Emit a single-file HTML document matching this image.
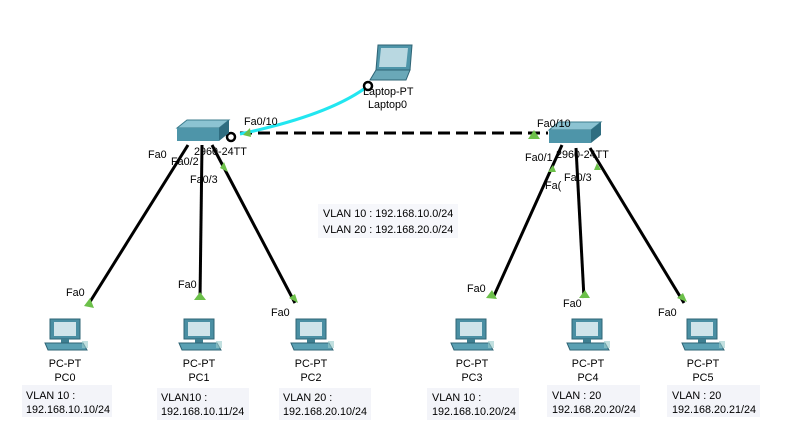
<!DOCTYPE html>
<html><head><style>
body{margin:0;width:785px;height:441px;background:#fff;overflow:hidden;font-family:"Liberation Sans",sans-serif;}
svg text{font-family:"Liberation Sans",sans-serif;font-size:10.8px;fill:#000}
</style></head><body>
<svg width="785" height="441" xmlns="http://www.w3.org/2000/svg">
<defs>
<g id="pc">
 <rect x="-15" y="0" width="30" height="20" fill="#4a8fa3" stroke="#2f6475"/>
 <rect x="-11" y="3" width="22" height="14" fill="#cfe4ea"/>
 <rect x="-4" y="20" width="8" height="4" fill="#3f7f91"/>
 <polygon points="-20,24 18,24 22,31 -17,31" fill="#5aa0b3" stroke="#2f6475"/>
 <rect x="17" y="22" width="6" height="7" fill="#9cc" opacity="0.6"/>
</g>
<g id="sw">
 <polygon points="0,8 10,0 52,0 42,8" fill="#8cc3d2" stroke="#3c7d8e"/>
 <polygon points="0,8 42,8 42,21 0,21" fill="#4e95a9"/>
 <polygon points="42,8 52,0 52,13 42,21" fill="#2f6d80"/>
</g>
</defs>
<g stroke="#000" stroke-width="3">
<line x1="188" y1="145" x2="88" y2="305"/>
<line x1="202" y1="145" x2="200" y2="300"/>
<line x1="212" y1="145" x2="295" y2="303"/>
<line x1="562" y1="145" x2="493" y2="298"/>
<line x1="576" y1="148" x2="584" y2="298"/>
<line x1="590" y1="148" x2="684" y2="303"/>
</g>
<line x1="240" y1="133" x2="548" y2="133" stroke="#000" stroke-width="3" stroke-dasharray="12,6"/>
<path d="M368,86 Q330,115 240,134" stroke="#22e6f0" stroke-width="3" fill="none"/>
<circle cx="231" cy="137" r="4" fill="#fff" stroke="#000" stroke-width="2.5"/>
<circle cx="368" cy="86" r="4" fill="#fff" stroke="#000" stroke-width="2.5"/>
<g fill="#6cc04a">
<polygon points="243,135 250,128 251,137"/>
<polygon points="528,139 534,130 540,139"/>
<polygon points="84,306 90,298 94,308"/>
<polygon points="194,300 200,292 206,300"/>
<polygon points="289,298 295,294 298,303"/>
<polygon points="486,298 492,290 497,299"/>
<polygon points="579,298 585,290 590,298"/>
<polygon points="677,298 683,293 687,302"/>
<polygon points="220,168 224,162 228,172"/>
<polygon points="548,172 553,165 556,172"/>
<polygon points="594,170 597,163 601,170"/>
</g>
<use href="#sw" x="177" y="120"/>
<use href="#sw" x="549" y="122"/>
<g transform="translate(370,45)">
<polygon points="8,0 42,0 40,25 6,25" fill="#4e95a9" stroke="#2f6475"/>
<polygon points="11,3 38,3 36,22 9,22" fill="#b9d8e1"/>
<polygon points="6,25 40,25 36,35 0,35" fill="#6aa8b8" stroke="#2f6475"/>
</g>
<text x="363" y="95">Laptop-PT</text>
<text x="368" y="108">Laptop0</text>
<use href="#pc" x="65" y="319"/>
<use href="#pc" x="199" y="319"/>
<use href="#pc" x="311" y="319"/>
<use href="#pc" x="471" y="319"/>
<use href="#pc" x="587" y="319"/>
<use href="#pc" x="702" y="319"/>
<g text-anchor="middle">
<text x="65" y="367">PC-PT</text><text x="65" y="381">PC0</text>
<text x="199" y="367">PC-PT</text><text x="199" y="381">PC1</text>
<text x="311" y="367">PC-PT</text><text x="311" y="381">PC2</text>
<text x="472" y="367">PC-PT</text><text x="472" y="381">PC3</text>
<text x="588" y="367">PC-PT</text><text x="588" y="381">PC4</text>
<text x="703" y="367">PC-PT</text><text x="703" y="381">PC5</text>
</g>
<text x="244" y="125">Fa0/10</text>
<text x="148" y="158">Fa0</text>
<text x="171" y="165">Fa0/2</text>
<text x="190" y="183">Fa0/3</text>
<text x="194" y="155" fill="#555">2960-24TT</text>
<text x="537" y="127">Fa0/10</text>
<text x="525" y="161">Fa0/1</text>
<text x="556" y="158">2960-24TT</text>
<text x="545" y="189">Fa(</text>
<text x="564" y="181">Fa0/3</text>
<text x="66" y="296">Fa0</text>
<text x="178" y="288">Fa0</text>
<text x="271" y="316">Fa0</text>
<text x="467" y="292">Fa0</text>
<text x="563" y="307">Fa0</text>
<text x="658" y="316">Fa0</text>
<rect x="318" y="204" width="140" height="34" fill="#f6f7fb"/>
<text x="323" y="217">VLAN 10 : 192.168.10.0/24</text>
<text x="323" y="233">VLAN 20 : 192.168.20.0/24</text>
<g fill="#f3f4f9">
<rect x="22" y="385" width="90" height="32"/>
<rect x="157" y="388" width="92" height="32"/>
<rect x="279" y="388" width="92" height="32"/>
<rect x="427" y="388" width="92" height="32"/>
<rect x="547" y="385" width="93" height="32"/>
<rect x="667" y="385" width="93" height="32"/>
</g>
<text x="26" y="399">VLAN 10 :</text><text x="26" y="413">192.168.10.10/24</text>
<text x="161" y="401">VLAN10 :</text><text x="161" y="415">192.168.10.11/24</text>
<text x="283" y="401">VLAN 20 :</text><text x="283" y="415">192.168.20.10/24</text>
<text x="432" y="401">VLAN 10 :</text><text x="432" y="415">192.168.10.20/24</text>
<text x="552" y="399">VLAN : 20</text><text x="552" y="413">192.168.20.20/24</text>
<text x="672" y="399">VLAN : 20</text><text x="672" y="413">192.168.20.21/24</text>
</svg>
</body></html>
